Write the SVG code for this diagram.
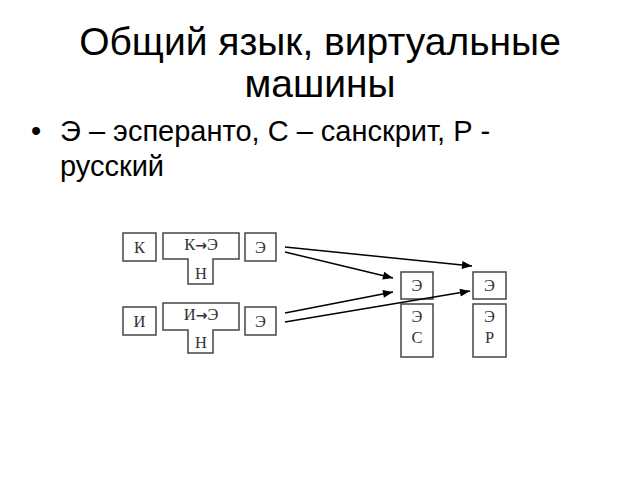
<svg xmlns="http://www.w3.org/2000/svg" width="640" height="480" viewBox="0 0 640 480">
<defs>
<marker id="ah" viewBox="0 0 10 8" refX="10" refY="4" markerWidth="11" markerHeight="8" markerUnits="userSpaceOnUse" orient="auto">
<path d="M0,0 L10,4 L0,8 z" fill="#000"/>
</marker>
</defs>
<style>
.t{font-family:"Liberation Sans",Arial,sans-serif;fill:#000}
.title{font-size:39px;text-anchor:middle}
.body{font-size:29px}
.s{font-family:"Liberation Serif","Times New Roman",serif;font-size:16.5px;text-anchor:middle;fill:#333}
.ar{font-family:"DejaVu Sans",sans-serif;font-weight:bold;font-size:14px}
.b{fill:#fff;stroke:#444;stroke-width:1.5}
.c{stroke:#000;stroke-width:1.5;fill:none;marker-end:url(#ah)}
</style>
<rect width="640" height="480" fill="#fff"/>
<text class="t title" x="320" y="55">Общий язык, виртуальные</text>
<text class="t title" x="320" y="97">машины</text>
<text class="t body" x="31" y="141">•</text>
<text class="t body" x="60" y="141">Э – эсперанто, С – санскрит, Р -</text>
<text class="t body" x="60" y="176">русский</text>
<g id="k"><rect class="b" x="123" y="233" width="33" height="28"/><text class="s" x="139.5" y="253">К</text></g>
<g id="k2e"><path class="b" d="M163,233 H239 V259 H213 V284 H188 V259 H163 Z"/><text class="s" x="201" y="250">К<tspan class="ar">→</tspan>Э</text><text class="s" x="201" y="279">Н</text></g>
<g id="e1"><rect class="b" x="245" y="233" width="31" height="28"/><text class="s" x="260.5" y="253">Э</text></g>
<g id="i"><rect class="b" x="123" y="307" width="33" height="28"/><text class="s" x="139.5" y="327">И</text></g>
<g id="i2e"><path class="b" d="M163,303 H239 V330 H213 V353 H188 V330 H163 Z"/><text class="s" x="201" y="320">И<tspan class="ar">→</tspan>Э</text><text class="s" x="201" y="348">Н</text></g>
<g id="e2"><rect class="b" x="245" y="307" width="31" height="28"/><text class="s" x="260.5" y="327">Э</text></g>
<g id="es"><rect class="b" x="401" y="272" width="32" height="27"/><text class="s" x="417" y="291">Э</text></g>
<g id="esc"><rect class="b" x="401" y="304" width="32" height="53"/><text class="s" x="417" y="322">Э</text><text class="s" x="417" y="343">С</text></g>
<g id="er"><rect class="b" x="473" y="272" width="33" height="27"/><text class="s" x="489.5" y="291">Э</text></g>
<g id="erp"><rect class="b" x="473" y="304" width="33" height="53"/><text class="s" x="489.5" y="322">Э</text><text class="s" x="489.5" y="343">Р</text></g>
<g id="connectors">
<line class="c" x1="285" y1="247" x2="472" y2="266"/>
<line class="c" x1="285" y1="252" x2="393" y2="278"/>
<line class="c" x1="285" y1="313" x2="393" y2="292"/>
<line class="c" x1="285" y1="322" x2="470" y2="291"/>
</g>
</svg>
